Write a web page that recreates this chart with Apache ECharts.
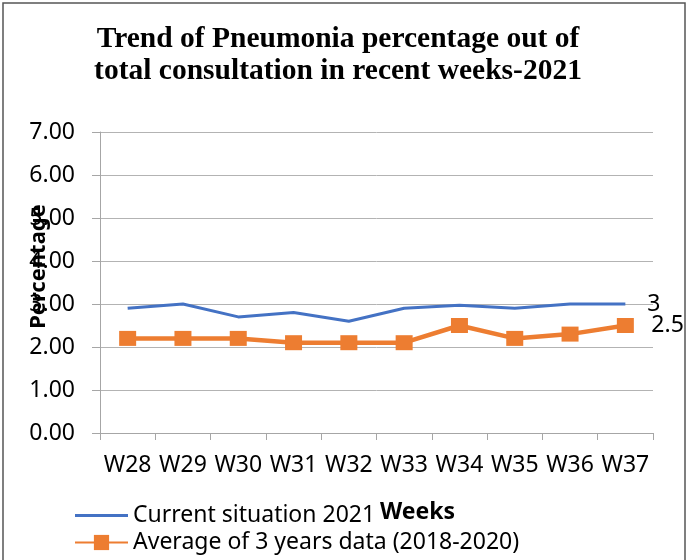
<!DOCTYPE html>
<html>
<head>
<meta charset="utf-8">
<script src="https://cdn.jsdelivr.net/npm/echarts@6/dist/echarts.min.js"></script>
<style>
  html, body { margin: 0; padding: 0; background: #fff; }
  #chart { width: 690px; height: 560px; }
</style>
</head>
<body>
<div id="chart"></div>
<script>
// weeks on the x axis
const weeks = ['W28', 'W29', 'W30', 'W31', 'W32', 'W33', 'W34', 'W35', 'W36', 'W37']
// current situation 2021
const current2021 = [2.9, 3.0, 2.7, 2.8, 2.6, 2.9, 2.97, 2.9, 3.0, 3.0]
// average of 2018-2020
const avg3Years = [2.2, 2.2, 2.2, 2.1, 2.1, 2.1, 2.5, 2.2, 2.3, 2.5]
const seriesNames = ['Current situation 2021', 'Average of 3 years data (2018-2020)']

const font = 'Noto Sans'
const mychart = echarts.init(document.getElementById('chart'))
const option = {
  animation: false,
  title: {
    text: 'Trend of Pneumonia percentage out of\ntotal consultation in recent weeks-2021',
    left: 333,
    top: 18,
    textAlign: 'center',
    textStyle: {
      fontFamily: 'Liberation Serif',
      fontWeight: 'bold',
      fontSize: 29.5,
      lineHeight: 32,
      color: '#000'
    }
  },
  graphic: [
    {
      type: 'rect',
      silent: true,
      shape: { x: 3, y: 3, width: 682, height: 600 },
      style: { fill: 'none', stroke: '#555', lineWidth: 1.5 }
    }
  ],
  grid: {
    left: 100,
    right: 37,
    top: 132,
    bottom: 127
  },
  legend: {
    orient: 'vertical',
    left: 74,
    top: 504,
    padding: 0,
    itemWidth: 53,
    itemHeight: 19,
    itemGap: 4,
    textStyle: { fontFamily: font, fontSize: 23, color: '#000' },
    data: [
      // plain line icon for the first series
      { name: seriesNames[0], icon: 'path://M0,0 L53,0 L53,3 L0,3 Z' },
      { name: seriesNames[1] }
    ]
  },
  xAxis: {
    type: 'category',
    data: weeks,
    name: 'Weeks',
    nameLocation: 'middle',
    nameGap: 68,
    nameMoveOverlap: false,
    nameTextStyle: {
      fontFamily: font,
      fontWeight: 'bold',
      fontSize: 23,
      color: '#000',
      padding: [0, 0, 0, 82]
    },
    axisLine: { lineStyle: { color: '#a6a6a6', width: 1 } },
    axisTick: { show: true, interval: 0, length: 7, lineStyle: { color: '#a6a6a6' } },
    axisLabel: { interval: 0, fontFamily: font, fontSize: 23, color: '#000', margin: 21 }
  },
  yAxis: {
    type: 'value',
    min: 0,
    max: 7,
    interval: 1,
    name: 'Percentage',
    nameLocation: 'middle',
    nameGap: 50,
    nameMoveOverlap: false,
    nameTextStyle: {
      fontFamily: font,
      fontWeight: 'bold',
      fontSize: 22,
      color: '#000',
      padding: [0, 0, 0, 32]
    },
    axisLine: { show: true, lineStyle: { color: '#a6a6a6', width: 1 } },
    axisTick: { show: true, length: 8, lineStyle: { color: '#a6a6a6' } },
    splitLine: { lineStyle: { color: '#b3b3b3', width: 1 } },
    axisLabel: {
      fontFamily: font,
      fontSize: 23,
      color: '#000',
      margin: 25,
      formatter: v => v.toFixed(2)
    }
  },
  series: [
    {
      name: seriesNames[0],
      type: 'line',
      data: current2021,
      symbol: 'none',
      lineStyle: { color: '#4472c4', width: 3 },
      itemStyle: { color: '#4472c4' },
      endLabel: {
        show: true,
        distance: 22,
        fontFamily: font,
        fontSize: 23,
        color: '#000',
        formatter: '3'
      }
    },
    {
      name: seriesNames[1],
      type: 'line',
      data: avg3Years,
      symbol: 'rect',
      symbolSize: [17, 15],
      lineStyle: { color: '#ed7d31', width: 4.5 },
      itemStyle: { color: '#ed7d31' },
      endLabel: {
        show: true,
        distance: 26,
        fontFamily: font,
        fontSize: 23,
        color: '#000',
        formatter: p => String(p.value)
      }
    }
  ]
}
mychart.setOption(option)
</script>
</body>
</html>
